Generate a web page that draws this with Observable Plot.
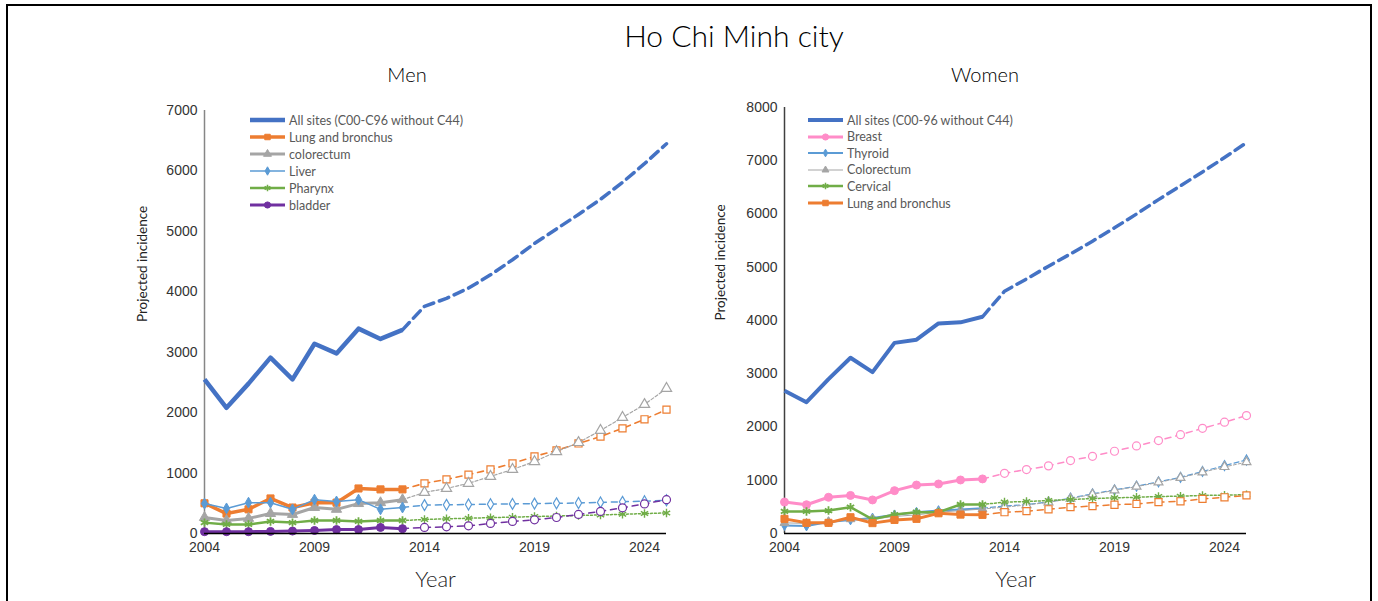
<!DOCTYPE html>
<html>
<head>
<meta charset="utf-8">
<script src="https://cdn.jsdelivr.net/npm/d3@7"></script>
<script src="https://cdn.jsdelivr.net/npm/@observablehq/plot@0.6"></script>
<style>
  body { margin: 0; background: #fff; }
  #root { position: relative; width: 1378px; height: 601px; overflow: hidden; background: #fff; font-family: Lato, "Open Sans", sans-serif; }
  .frame { position: absolute; left: 6px; top: 4px; width: 1366px; height: 640px; border: 2px solid #000; box-sizing: border-box; }
  .title { position: absolute; left: 434px; width: 600px; top: 17px; text-align: center; font-size: 30px; font-weight: 300; color: #000; font-family: Lato, sans-serif; }
  .sub { position: absolute; top: 62px; font-size: 20px; font-weight: 300; color: #000; text-align: center; width: 300px; font-family: Lato, sans-serif; }
  .panel { position: absolute; top: 90px; }
  .legend { position: absolute; font-size: 12.5px; color: #595959; font-family: Lato, sans-serif; }
  .legend .row { position: absolute; left: 0; height: 16px; white-space: nowrap; display: flex; align-items: center; }
  .legend svg { display: block; margin-right: 2px; }
</style>
</head>
<body>
<div id="root">
  <div class="frame"></div>
  <div class="title">Ho Chi Minh city</div>
  <div class="sub" style="left:257px">Men</div>
  <div class="sub" style="left:835px">Women</div>
</div>
<script>
// ---------- DATA ----------
const yearsObserved = [2004, 2005, 2006, 2007, 2008, 2009, 2010, 2011, 2012, 2013];
const yearsProjected = [2014, 2015, 2016, 2017, 2018, 2019, 2020, 2021, 2022, 2023, 2024, 2025];
const xTickYears = [2004, 2009, 2014, 2019, 2024];
const yTicksMen = [0, 1000, 2000, 3000, 4000, 5000, 6000, 7000];
const yTicksWomen = [0, 1000, 2000, 3000, 4000, 5000, 6000, 7000, 8000];

const menNames = ["All sites (C00-C96 without C44)", "Lung and bronchus", "colorectum", "Liver", "Pharynx", "bladder"];
const menAllObs = [2550, 2080, 2480, 2910, 2550, 3140, 2980, 3390, 3220, 3370];
const menAllProj = [3760, 3890, 4060, 4280, 4530, 4800, 5040, 5280, 5530, 5810, 6120, 6450];
const menLungObs = [500, 330, 400, 580, 430, 510, 510, 745, 730, 730];
const menLungProj = [830, 895, 975, 1060, 1160, 1275, 1375, 1490, 1605, 1740, 1890, 2050];
const menColoObs = [265, 215, 250, 330, 315, 430, 400, 495, 510, 560];
const menColoProj = [680, 745, 830, 945, 1060, 1190, 1355, 1505, 1705, 1920, 2135, 2400];
const menLiverObs = [495, 415, 510, 510, 400, 560, 530, 560, 400, 430];
const menLiverProj = [470, 475, 480, 485, 490, 495, 500, 505, 515, 525, 535, 550];
const menPharynxObs = [180, 150, 150, 200, 180, 215, 215, 200, 215, 215];
const menPharynxProj = [232, 243, 253, 262, 271, 280, 290, 298, 307, 318, 330, 340];
const menBladderObs = [30, 30, 30, 35, 40, 50, 65, 65, 100, 80];
const menBladderProj = [100, 110, 127, 166, 200, 226, 265, 315, 365, 425, 490, 560];

const womenNames = ["All sites (C00-96 without C44)", "Breast", "Thyroid", "Colorectum", "Cervical", "Lung and bronchus"];
const womenAllObs = [2680, 2465, 2900, 3300, 3030, 3580, 3640, 3945, 3965, 4070];
const womenAllProj = [4550, 4780, 5020, 5250, 5490, 5740, 6000, 6270, 6530, 6790, 7060, 7340];
const womenBreastObs = [590, 540, 680, 715, 630, 805, 910, 930, 1005, 1025];
const womenBreastProj = [1130, 1200, 1270, 1370, 1450, 1545, 1645, 1745, 1855, 1975, 2090, 2215];
const womenThyroidObs = [150, 140, 215, 255, 290, 350, 400, 430, 450, 475];
const womenThyroidProj = [515, 545, 590, 665, 745, 820, 890, 970, 1055, 1165, 1275, 1380];
const womenColoObs = [200, 190, 220, 270, 270, 320, 350, 400, 430, 460];
const womenColoProj = [495, 535, 585, 655, 735, 810, 880, 960, 1045, 1150, 1250, 1340];
const womenCervicalObs = [415, 415, 430, 495, 265, 355, 400, 400, 545, 545];
const womenCervicalProj = [590, 600, 620, 640, 655, 670, 680, 695, 700, 715, 720, 730];
const womenLungObs = [275, 200, 200, 305, 195, 255, 275, 380, 355, 350];
const womenLungProj = [400, 420, 455, 495, 515, 540, 555, 590, 605, 650, 680, 715];

// ---------- STYLES ----------
const menStyles = [
  {color: "#4472C4", w: 4.5, dw: 3.5, dash: "10,6", symbol: null},
  {color: "#ED7D31", w: 3.5, dw: 1.6, dash: "6,5", symbol: "square", r: 4},
  {color: "#A5A5A5", w: 3, dw: 1.2, dash: "3,2", symbol: "triangle", r: 3.8},
  {color: "#5B9BD5", w: 1.5, dw: 1.5, dash: "6,5", symbol: "diamond", r: 3.3},
  {color: "#70AD47", w: 2.5, dw: 1.5, dash: "2,2", symbol: "asterisk", r: 4},
  {color: "#7030A0", w: 3, dw: 1.5, dash: "6,5", symbol: "circle", r: 4}
];
const womenStyles = [
  {color: "#4472C4", w: 4, dw: 3.5, dash: "10,6", symbol: null},
  {color: "#FF8CC8", w: 3, dw: 1.5, dash: "6,5", symbol: "circle", r: 4},
  {color: "#5B9BD5", w: 2, dw: 1.2, dash: "5,3", symbol: "diamond", r: 3},
  {color: "#A5A5A5", w: 1, dw: 1, dash: "3,2", symbol: "triangle", r: 3.3},
  {color: "#70AD47", w: 2.5, dw: 1.5, dash: "2,2", symbol: "asterisk", r: 4},
  {color: "#ED7D31", w: 3, dw: 1.5, dash: "6,5", symbol: "square", r: 4}
];

const menData = [[menAllObs, menAllProj], [menLungObs, menLungProj], [menColoObs, menColoProj],
  [menLiverObs, menLiverProj], [menPharynxObs, menPharynxProj], [menBladderObs, menBladderProj]];
const womenData = [[womenAllObs, womenAllProj], [womenBreastObs, womenBreastProj], [womenThyroidObs, womenThyroidProj],
  [womenColoObs, womenColoProj], [womenCervicalObs, womenCervicalProj], [womenLungObs, womenLungProj]];

const strokeOnly = new Set(["asterisk", "plus", "times"]);

function seriesMarks(name, obs, proj, st) {
  const obsRows = yearsObserved.map((y, i) => ({name, year: y, value: obs[i]}));
  const projRows = yearsProjected.map((y, i) => ({name, year: y, value: proj[i]}));
  const bridge = [obsRows[obsRows.length - 1], ...projRows];
  const marks = [
    Plot.line(bridge, {x: "year", y: "value", stroke: st.color, strokeWidth: st.dw, strokeDasharray: st.dash, strokeLinejoin: "round"}),
    Plot.line(obsRows, {x: "year", y: "value", stroke: st.color, strokeWidth: st.w, strokeLinejoin: "round", strokeLinecap: "butt"})
  ];
  if (st.symbol) {
    if (strokeOnly.has(st.symbol)) {
      marks.push(Plot.dot(projRows, {x: "year", y: "value", symbol: st.symbol, r: st.r, stroke: st.color, strokeWidth: 1.4}));
      marks.push(Plot.dot(obsRows, {x: "year", y: "value", symbol: st.symbol, r: st.r, stroke: st.color, strokeWidth: 1.8}));
    } else {
      marks.push(Plot.dot(projRows, {x: "year", y: "value", symbol: st.symbol, r: st.r, fill: "white", stroke: st.color, strokeWidth: 1.2}));
      marks.push(Plot.dot(obsRows, {x: "year", y: "value", symbol: st.symbol, r: st.r, fill: st.color, stroke: st.color, strokeWidth: 1}));
    }
  }
  return marks;
}

function panel({names, data, styles, yTicks, marginTop, axisColor, yLabelDx}) {
  const yMax = yTicks[yTicks.length - 1];
  const marks = [
    Plot.ruleX([2004], {stroke: axisColor, strokeWidth: 1.5}),
    Plot.axisY({ticks: yTicks, tickSize: 0, tickPadding: 7, fontSize: 14, label: null, color: "#333", tickFormat: d => String(d)}),
    Plot.axisX({ticks: xTickYears, tickSize: 0, tickPadding: 9, fontSize: 14, label: null, color: "#333", tickFormat: d => String(d)})
  ];
  names.forEach((n, i) => marks.push(...seriesMarks(n, data[i][0], data[i][1], styles[i])));
  marks.push(Plot.ruleY([0], {stroke: "#000", strokeWidth: 1.5}));
  marks.push(Plot.text(["Projected incidence"], {text: d => d, frameAnchor: "left", dx: yLabelDx, rotate: -90, fontSize: 13.5, fill: "#222", fontFamily: "Lato, sans-serif"}));
  marks.push(Plot.text(["Year"], {text: d => d, frameAnchor: "bottom", dy: 53, fontSize: 22, fontWeight: 300, fill: "#222", fontFamily: "Lato, sans-serif"}));
  return Plot.plot({
    width: 570,
    height: 511,
    marginLeft: 84,
    marginRight: 24,
    marginTop,
    marginBottom: 68,
    x: {domain: [2004, 2025], axis: null},
    y: {domain: [0, yMax], axis: null},
    style: {fontFamily: "'Liberation Sans', Arial, sans-serif", fontSize: "14px", background: "transparent", overflow: "visible"},
    marks
  });
}

const root = document.getElementById("root");

function place(el, left) {
  el.classList.add("panel");
  el.style.left = left + "px";
  root.appendChild(el);
}

place(panel({names: menNames, data: menData, styles: menStyles, yTicks: yTicksMen, marginTop: 20, axisColor: "#868686", yLabelDx: -62}), 120);
place(panel({names: womenNames, data: womenData, styles: womenStyles, yTicks: yTicksWomen, marginTop: 17, axisColor: "#404040", yLabelDx: -64}), 700);

const symbolMap = {square: d3.symbolSquare, triangle: d3.symbolTriangle, diamond: d3.symbolDiamond, circle: d3.symbolCircle, asterisk: d3.symbolAsterisk};

function legend(names, styles, left, top, step) {
  const box = document.createElement("div");
  box.className = "legend";
  box.style.left = left + "px";
  box.style.top = top + "px";
  names.forEach((n, i) => {
    const st = styles[i];
    const row = document.createElement("div");
    row.className = "row";
    row.style.top = (i * step) + "px";
    const svg = d3.create("svg").attr("width", 37).attr("height", 16);
    svg.append("line").attr("x1", 0).attr("x2", 35).attr("y1", 8).attr("y2", 8)
      .attr("stroke", st.color).attr("stroke-width", st.w);
    if (st.symbol) {
      const p = d3.symbol(symbolMap[st.symbol], Math.PI * st.r * st.r * 0.6)();
      const s = svg.append("path").attr("d", p).attr("transform", "translate(17.5,8)");
      if (strokeOnly.has(st.symbol)) s.attr("fill", "none").attr("stroke", st.color).attr("stroke-width", 1.5);
      else s.attr("fill", st.color).attr("stroke", st.color);
    }
    row.appendChild(svg.node());
    const t = document.createElement("span");
    t.textContent = n;
    row.appendChild(t);
    box.appendChild(row);
  });
  root.appendChild(box);
}

legend(menNames, menStyles, 250, 112, 17);
legend(womenNames, womenStyles, 808, 112, 16.6);
</script>
</body>
</html>
